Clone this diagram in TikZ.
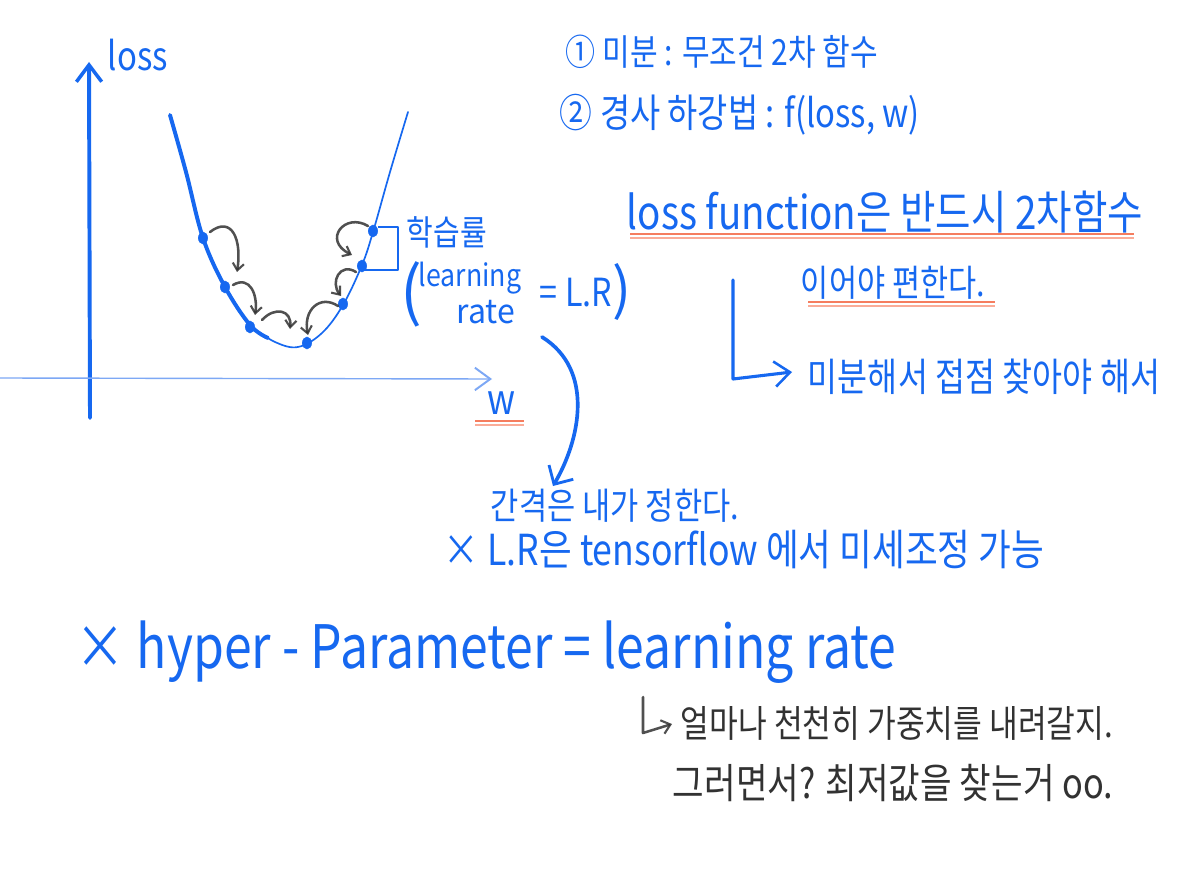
\documentclass[tikz,border=0pt]{standalone}
\usepackage{fontspec}
\setmainfont{Noto Sans CJK KR}
\usetikzlibrary{arrows.meta,shapes.geometric}
\definecolor{pen}{RGB}{22,104,240}
\definecolor{penlight}{RGB}{125,168,245}
\definecolor{uline}{RGB}{245,125,95}
\definecolor{uline2}{RGB}{250,172,152}
\definecolor{pencil}{RGB}{50,50,50}
\newcommand{\fitw}[2]{\resizebox{#1}{!}{\scalebox{1}[1.2]{#2}}}
\begin{document}
\begin{tikzpicture}[x=0.025cm,y=-0.025cm,
  txt/.style={text=pen,inner sep=0pt,anchor=center},
  ptxt/.style={text=pencil,inner sep=0pt,anchor=center},
  thickpen/.style={draw=pen,line width=2.8pt,line cap=round,line join=round},
  midpen/.style={draw=pen,line width=2pt,line cap=round,line join=round},
  thinpen/.style={draw=pen,line width=1.2pt,line cap=round},
  hop/.style={draw=pencil,line width=1.8pt,line cap=round,opacity=0.85,
    -{Straight Barb[length=5pt,width=8pt,line width=1.5pt]}},
  dotn/.style={ellipse,fill=pen,draw=pen,inner sep=0pt,minimum width=6.5pt,minimum height=8.5pt},
  ul/.style={draw=uline,line width=1.3pt},
  ul2/.style={draw=uline2,line width=1.3pt}
]
\useasboundingbox[fill=white] (0,0) rectangle (1200,872);

% axes
\coordinate (yb) at (90,418);
\coordinate (yt) at (89,62);
\draw[thickpen,-{Straight Barb[length=12pt,width=18pt,line width=2.5pt]}] (yb) -- (yt);
\coordinate (xl) at (0,378);
\coordinate (xr) at (492,379);
\draw[draw=penlight,line width=1pt,-{Straight Barb[length=11pt,width=16pt,line width=1.4pt]},color=penlight] (xl) -- (xr);
\node[txt] (lossl) at (138,55) {\fitw{1.5cm}{loss}};
\node[txt] (wl) at (501,403) {\fitw{0.7cm}{w}};
\draw[ul] (475,421) -- (524,421);
\draw[ul2] (475,425) -- (524,425);

% parabola
\draw[thickpen] plot[smooth,tension=0.6] coordinates {(170,115) (186,172) (203,238) (225,287) (250,325) (268,338)};
\draw[thinpen] plot[smooth,tension=0.6] coordinates {(250,326) (275,342) (298,347) (322,333) (343,305) (362,265) (373,232) (390,172) (408,112)};

% dots
\node[dotn] (d1) at (203,238) {};
\node[dotn] (d2) at (225,287) {};
\node[dotn] (d3) at (250,327) {};
\node[dotn] (d4) at (307,343) {};
\node[dotn] (d5) at (343,304) {};
\node[dotn] (d6) at (362,266) {};
\node[dotn] (d7) at (373,231) {};

% pencil hops
\coordinate (h1s) at (210,232); \coordinate (h1e) at (237,272);
\coordinate (h2s) at (233,285); \coordinate (h2e) at (255,315);
\coordinate (h3s) at (262,320); \coordinate (h3e) at (290,329);
\coordinate (h4s) at (338,306); \coordinate (h4e) at (308,335);
\coordinate (h5s) at (356,272); \coordinate (h5e) at (341,296);
\coordinate (h6s) at (368,226); \coordinate (h6e) at (352,255);
\draw[hop] (h1s) .. controls (232,215) and (242,240) .. (h1e);
\draw[hop] (h2s) .. controls (250,275) and (258,295) .. (h2e);
\draw[hop] (h3s) .. controls (275,306) and (292,310) .. (h3e);
\draw[hop] (h4s) .. controls (320,294) and (303,310) .. (h4e);
\draw[hop] (h5s) .. controls (340,262) and (330,282) .. (h5e);
\draw[hop] (h6s) .. controls (345,212) and (322,240) .. (h6e);

% bracket
\coordinate (b1) at (378,227); \coordinate (b2) at (398,227);
\coordinate (b3) at (398,270); \coordinate (b4) at (364,270);
\draw[midpen,line cap=butt] (b1) -- (b2) -- (b3) -- (b4);

% learning rate labels
\node[txt] (hak) at (447,232) {\fitw{2.0cm}{학습률}};
\node[txt] (lp) at (411,294) {\fontsize{46}{46}\selectfont (};
\node[txt,align=center,font=\fontsize{19}{27}\selectfont] (lrn) at (470,293) {\scalebox{1}[1.15]{learning}\\\hspace*{1.2em}\scalebox{1.2}[1.25]{rate}};
\node[txt] (eqlr) at (576,293) {\fitw{1.8cm}{= L.R}};
\node[txt] (rp) at (622,292) {\fontsize{40}{40}\selectfont )};

% big curved arrow
\coordinate (ca1) at (542,337);
\coordinate (ca2) at (553,486);
\draw[midpen,line width=2.6pt,-{Straight Barb[length=10pt,width=20pt,line width=2pt]}] (ca1) .. controls (595,370) and (580,440) .. (ca2);

\node[txt] (gan) at (615,506) {\fitw{6.2cm}{간격은 내가 정한다.}};
\node[txt] (lrt) at (744,550) {\fitw{15cm}{× L.R은 tensorflow 에서 미세조정 가능}};

% top right notes
\node[txt] (n1) at (722,52) {\fitw{7.8cm}{① 미분 : 무조건 2차 함수}};
\node[txt] (n2) at (740,115) {\fitw{9cm}{② 경사 하강법 : f(loss, w)}};

\node[txt] (lf) at (885,212) {\fitw{12.9cm}{loss function은 반드시 2차함수}};
\draw[ul] (630,234) -- (1134,234);
\draw[ul2] (630,238) -- (1134,238);
\node[txt] (iea) at (893,283) {\fitw{4.6cm}{이어야 편한다.}};
\draw[ul] (808,302) -- (995,302);
\draw[ul2] (808,306) -- (995,306);

\coordinate (hA) at (733,280);
\coordinate (hB) at (733,379);
\coordinate (hC) at (792,372);
\draw[midpen,line width=2.2pt,-{Straight Barb[length=11pt,width=18pt,line width=1.8pt]}] (hA) -- (hB) -- (hC);
\node[txt] (mib) at (984,377) {\fitw{8.8cm}{미분해서 접점 찾아야 해서}};

% hyper parameter
\node[txt] (hyp) at (486,652) {\fitw{20.5cm}{× hyper - Parameter = learning rate}};

% pencil notes
\coordinate (pA) at (643,697);
\coordinate (pB) at (643,733);
\coordinate (pC) at (672,724);
\draw[draw=pencil,line width=1.8pt,line cap=round,line join=round,opacity=0.85,
  -{Straight Barb[length=6pt,width=10pt,line width=1.5pt]}] (pA) -- (pB) -- (pC);
\node[ptxt] (p1) at (897,723) {\fitw{10.8cm}{얼마나 천천히 가중치를 내려갈지.}};
\node[ptxt] (p2) at (893,783) {\fitw{11cm}{그러면서? 최저값을 찾는거 oo.}};
\end{tikzpicture}
\end{document}
